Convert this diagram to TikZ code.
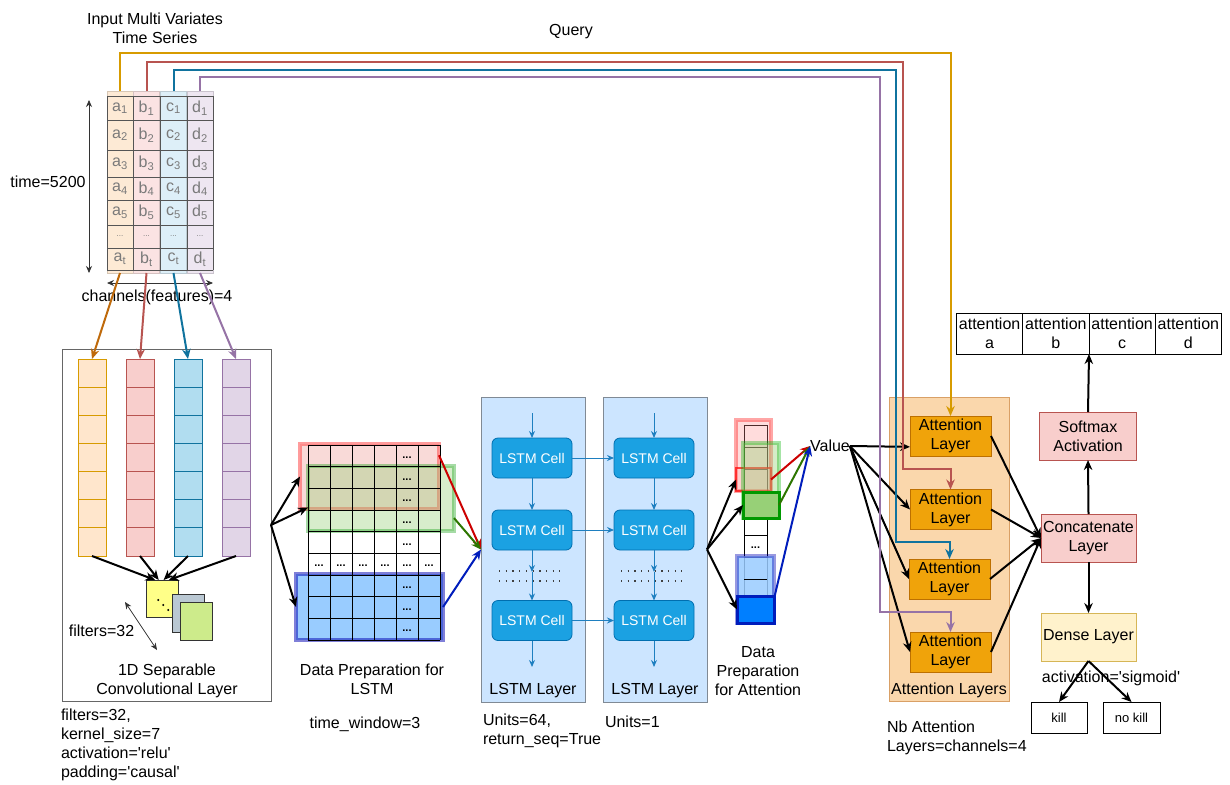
\documentclass[tikz,border=0pt]{standalone}
\usepackage{fontspec}
\setmainfont{Liberation Sans}
\usetikzlibrary{arrows.meta}
\definecolor{inA}{HTML}{FDEAD5}
\definecolor{inB}{HTML}{FBE3E3}
\definecolor{inC}{HTML}{DDEFF8}
\definecolor{inD}{HTML}{EEE6F1}
\definecolor{orF}{HTML}{FFE6CC}
\definecolor{orD}{HTML}{D79B00}
\definecolor{reF}{HTML}{F8CECC}
\definecolor{reD}{HTML}{B85450}
\definecolor{blF}{HTML}{B1DDF0}
\definecolor{blD}{HTML}{10739E}
\definecolor{puF}{HTML}{E1D5E7}
\definecolor{puD}{HTML}{9673A6}
\definecolor{qO}{HTML}{D79B00}
\definecolor{aO}{HTML}{BF6A0B}
\definecolor{lyF}{HTML}{CCE5FF}
\definecolor{lyD}{HTML}{808A95}
\definecolor{ceF}{HTML}{1BA1E2}
\definecolor{ceD}{HTML}{006EAF}
\definecolor{arB}{HTML}{1E7FC0}
\definecolor{atF}{HTML}{F0A30A}
\definecolor{atD}{HTML}{BD7000}
\definecolor{acF}{HTML}{FAD7AC}
\definecolor{acD}{HTML}{D9A066}
\definecolor{deF}{HTML}{FFF2CC}
\definecolor{deD}{HTML}{D6B656}
\definecolor{tabl}{HTML}{555555}
\definecolor{tabt}{HTML}{7A7A7A}
\definecolor{fYel}{HTML}{FFFF88}
\definecolor{fGry}{HTML}{BAC8D3}
\definecolor{fGrn}{HTML}{CDEB8B}
\definecolor{wBl}{HTML}{99CCFF}
\definecolor{eBl}{HTML}{007FFF}
\definecolor{eBlD}{HTML}{001DBC}
\definecolor{eGr}{HTML}{97D077}
\definecolor{arR}{HTML}{CC0000}
\definecolor{arG}{HTML}{2D7600}
\begin{document}
\begin{tikzpicture}[x=1pt,y=-1pt,
  every node/.style={inner sep=0pt,outer sep=0pt,font=\fontsize{16}{19}\selectfont},
  wh/.style 2 args={minimum width=#1pt,minimum height=#2pt},
  mytip/.style={-{Stealth[length=10pt,width=8.5pt]}},
  blk/.style={draw=black,line width=2pt,mytip},
  qline/.style={line width=2pt,mytip},
  sarr/.style={draw=arB,line width=1pt,-{Stealth[length=7pt,width=6pt]}},
  dbl/.style={draw=black!80,line width=0.8pt,{Stealth[length=7pt,width=6pt]}-{Stealth[length=7pt,width=6pt]}},
  cell/.style={fill=ceF,draw=ceD,line width=0.8pt,rounded corners=6pt,wh={80}{40},text=white,font=\fontsize{14}{16}\selectfont},
  att/.style={fill=atF,draw=atD,line width=0.8pt,wh={81}{40},align=center},
  pinkbox/.style={fill=reF,draw=reD,line width=0.8pt,align=center},
  plain/.style={draw=black,line width=0.8pt,align=center},
  celltxt/.style={text=tabt},
  dotsty/.style={font=\fontsize{11}{12}\selectfont\bfseries}
]
\path[use as bounding box,fill=white] (0,0) rectangle (1230,784);

% ---------------- Input table ----------------
\node[align=center] (title) at (155,28) {Input Multi Variates\\Time Series};
\node (query) at (571,32) {Query};
\foreach \n/\x/\c in {A/120/inA,B/146.5/inB,C/173.5/inC,D/200/inD}
  \node[fill=\c,draw=\c!85!black,line width=0.6pt,wh={26}{182}] (col\n) at (\x,182) {};
\foreach \y in {96,120,150,177,200,225,248,270}
  \draw[tabl,line width=0.8pt] (107,\y) -- (213,\y);
\foreach \x in {107,133,160,187,213}
  \draw[tabl,line width=0.8pt] (\x,96) -- (\x,270);
\foreach \c/\x in {a/120,b/146.5,c/173.5,d/200}{
  \foreach \r/\y in {1/108,2/135,3/163.5,4/188.5,5/212.5,t/259}
    \node[celltxt] (t\c\r) at (\x,\y) {\c\textsubscript{\r}};
  \node[text=tabt,font=\fontsize{8}{9}\selectfont] (t\c x) at (\x,236.5) {...};
}
\coordinate (timeT) at (89,100);
\coordinate (timeB) at (89,273);
\draw[dbl] (timeT) -- (timeB);
\node (timelab) at (48,182) {time=5200};
\coordinate (chL) at (107,283);
\coordinate (chR) at (213,283);
\draw[dbl] (chL) -- (chR);
\node (chlab) at (157,297) {channels(features)=4};

% ---------------- Conv layer ----------------
\node[draw=black!60,line width=0.8pt,wh={209}{352}] (conv) at (166.5,525) {};
\foreach \n/\x/\f/\d in {A/92/orF/orD,B/140/reF/reD,C/188/blF/blD,D/236/puF/puD}{
  \node[fill=\f,draw=\d,line width=0.8pt,wh={28}{197}] (cv\n) at (\x,457.5) {};
  \foreach \k in {1,...,6}
    \draw[\d,line width=0.8pt] (\x-14,359+28.143*\k) -- (\x+14,359+28.143*\k);
}
\draw[qline,aO] (colA.south) -- (cvA.north);
\draw[qline,reD] (colB.south) -- (cvB.north);
\draw[qline,blD] (colC.south) -- (cvC.north);
\draw[qline,puD] (colD.south) -- (cvD.north);
\node[fill=fYel,draw=black!80,line width=0.7pt,wh={32}{37}] (fY) at (162,598.5) {};
\node[fill=fGry,draw=black!80,line width=0.7pt,wh={32}{38}] (fG) at (188,613) {};
\node[fill=fGrn,draw=black!80,line width=0.7pt,wh={32}{38}] (fN) at (196,621) {};
\fill (158.3,600) circle (1.1) (163.3,605) circle (1.1) (168.3,610) circle (1.1);
\draw[blk] (cvA.south) -- (fY.110);
\draw[blk] (cvB.south) -- (fY.100);
\draw[blk] (cvC.south) -- (fY.85);
\draw[blk] (cvD.south) -- (fY.70);
\coordinate (fa1) at (125,602);
\coordinate (fa2) at (157,650);
\draw[dbl] (fa1) -- (fa2);
\node (filt) at (101.5,631) {filters=32};
\node[align=center] (convlab) at (167,680.5) {1D Separable\\Convolutional Layer};
\node[align=left,anchor=west] (convpar) at (61,744.5) {filters=32,\\kernel\_size=7\\activation=\textquotesingle relu\textquotesingle\\padding=\textquotesingle causal\textquotesingle};

% ---------------- Data preparation for LSTM ----------------
\node[fill=reF,fill opacity=0.75,draw=red!70,draw opacity=0.55,line width=4pt,wh={139}{65}] (wR) at (369.5,476.5) {};
\node[fill=eGr,fill opacity=0.38,draw=green!60!black,draw opacity=0.35,line width=4pt,wh={146}{65}] (wG) at (381,498.5) {};
\node[fill=wBl,draw=blue!70!black,draw opacity=0.5,line width=4pt,wh={147}{66}] (wB) at (369.5,607) {};
\foreach \k in {0,...,9}
  \draw[black,line width=0.6pt] (308,445+21.667*\k) -- (440,445+21.667*\k);
\foreach \k in {0,...,6}
  \draw[black,line width=0.6pt] (308+22*\k,445) -- (308+22*\k,640);
\foreach \k in {1,2,3,4,5,7,8,9}
  \node[dotsty] (dk\k) at (407,{445+21.667*(\k-0.5)+2}) {...};
\foreach \j in {1,...,6}
  \node[dotsty] (dr\j) at ({308+22*(\j-0.5)},{445+21.667*5.5+2}) {...};
\draw[blk] (conv.east) -- (wR.west);
\draw[blk] (conv.east) -- (wG.187);
\draw[blk] (conv.east) -- (wB.west);
\node[align=center] (dplab) at (372,679.5) {Data Preparation for\\LSTM};
\node (tw) at (365,724) {time\_window=3};

% ---------------- LSTM layers ----------------
\foreach \L/\x in {1/533,2/655}{
  \node[fill=lyF,draw=lyD,line width=0.8pt,wh={104}{305}] (lstm\L) at (\x,549.5) {};
  \node (lab\L) at (\x,691) {LSTM Layer};
}
\foreach \L/\x in {1/532,2/654}{
  \foreach \r/\y in {1/458,2/530,3/620.5}
    \node[cell] (c\L\r) at (\x,\y) {LSTM Cell};
  \coordinate (in\L) at (\x,413);
  \coordinate (mid\L) at (\x,572);
  \coordinate (out\L) at (\x,667);
  \draw[sarr] (in\L) -- (c\L1.north);
  \draw[sarr] (c\L1.south) -- (c\L2.north);
  \draw[sarr] (c\L2.south) -- (mid\L);
  \draw[sarr] (mid\L) -- (c\L3.north);
  \draw[sarr] (c\L3.south) -- (out\L);
  \draw[line width=1.3pt,dash pattern=on 1.3pt off 5.4pt,black!75] (\x-33,571) -- (\x+28,571);
  \draw[line width=1.3pt,dash pattern=on 1.3pt off 5.4pt,black!75] (\x-33,581) -- (\x+28,581);
}
\foreach \r in {1,2,3}
  \draw[sarr] (c1\r.east) -- (c2\r.west);
\draw[line width=2pt,arR,mytip] (wR.17) -- (lstm1.west);
\draw[line width=2pt,arG,mytip] (wG.345) -- (lstm1.west);
\draw[line width=2pt,eBlD,mytip] (wB.east) -- (lstm1.west);
\node[align=left,anchor=west] (u64) at (483,731) {Units=64,\\return\_seq=True};
\node[anchor=west] (u1) at (605,722) {Units=1};

% ---------------- Data preparation for attention ----------------
\foreach \k in {1,...,9}
  \node[draw=black,line width=0.6pt,fill=white,wh={23}{22}] (ac\k) at (755.5,{425+22*(\k-0.5)}) {};
\node[dotsty] (acd) at (755.5,548) {...};
\node[fill=red!45,fill opacity=0.3,draw=red,draw opacity=0.35,line width=4pt,wh={35}{71}] (rO) at (753.5,455.5) {};
\node[fill=red!30,fill opacity=0.3,draw=red,draw opacity=0.7,line width=2.5pt,wh={35}{23}] (rE) at (753.5,479.5) {};
\node[fill=eGr,fill opacity=0.4,draw=green!70!black,draw opacity=0.35,line width=4pt,wh={36}{75}] (gO) at (761,480.5) {};
\node[fill=eGr,draw=green!60!black,line width=3pt,wh={36}{26}] (gE) at (761,505) {};
\node[fill=wBl,fill opacity=0.85,draw=blue!70!black,draw opacity=0.4,line width=4pt,wh={37}{67}] (bO) at (755.5,589.5) {};
\draw[black,line width=0.6pt] (744,579) -- (767,579);
\node[fill=eBl,draw=eBlD,line width=3pt,wh={37}{27}] (bE) at (755.5,609.5) {};
\draw[blk] (lstm2.east) -- (rE.west);
\draw[blk] (lstm2.east) -- (gE.west);
\draw[blk] (lstm2.east) -- (bE.west);
\node (val) at (830,446) {Value};
\draw[line width=2pt,arR,mytip] (rE.east) -- (val.west);
\draw[line width=2pt,arG,mytip] (gE.east) -- (val.west);
\draw[line width=2pt,eBlD,mytip] (bE.30) -- (val.west);
\node[align=center] (dalab) at (758,671) {Data\\Preparation\\for Attention};

% ---------------- Attention layers ----------------
\node[fill=acF,draw=acD,line width=0.8pt,wh={120}{304}] (attC) at (949,549) {};
\node (attClab) at (949,690) {Attention Layers};
\node[att] (att1) at (950.5,436) {Attention\\Layer};
\node[att] (att2) at (950.5,509.5) {Attention\\Layer};
\node[att] (att3) at (949.5,579) {Attention\\Layer};
\node[att] (att4) at (950.5,652) {Attention\\Layer};
\draw[blk] (val.east) -- (att1.195);
\draw[blk] (val.east) -- (att2.west);
\draw[blk] (val.east) -- (att3.west);
\draw[blk] (val.east) -- (att4.west);
\node[align=left,anchor=west] (nbatt) at (887,738) {Nb Attention\\Layers=channels=4};

% query lines
\draw[qline,qO] (colA.north) |- (950.5,53) -- (att1.north);
\draw[qline,reD] (colB.north) |- (903,62) -- (903,469) -| (att2.north);
\draw[qline,blD] (colC.north) |- (896,70) -- (896,542) -| (att3.north);
\draw[qline,puD] (colD.north) |- (880,77) -- (880,612) -| (att4.north);

% ---------------- Output side ----------------
\node[pinkbox,wh={95}{48}] (concat) at (1088.5,538) {Concatenate\\Layer};
\node[pinkbox,wh={97}{48}] (soft) at (1088,436) {Softmax\\Activation};
\node[fill=deF,draw=deD,line width=0.8pt,wh={95}{48}] (dense) at (1088.5,637) {Dense Layer};
\foreach \k/\t in {1/a,2/b,3/c,4/d}
  \node[plain,wh={66.25}{41}] (at\k) at ({956.5+66.25*(\k-0.5)},333.5) {attention\\\t};
\draw[blk] (att1.east) -- (concat.west);
\draw[blk] (att2.east) -- (concat.west);
\draw[blk] (att3.east) -- (concat.west);
\draw[blk] (att4.east) -- (concat.west);
\draw[blk] (concat.north) -- (soft.south);
\draw[blk] (soft.north) -- (at2.south east);
\draw[blk] (concat.south) -- (dense.north);
\node (sig) at (1111,678) {activation=\textquotesingle sigmoid\textquotesingle};
\node[plain,wh={56}{31},font=\fontsize{13}{15}\selectfont] (kill) at (1059,717.5) {kill};
\node[plain,wh={57}{31},font=\fontsize{13}{15}\selectfont] (nokill) at (1131.5,717.5) {no kill};
\draw[blk] (dense.south) -- (kill.north);
\draw[blk] (dense.south) -- (nokill.north);
\end{tikzpicture}
\end{document}
